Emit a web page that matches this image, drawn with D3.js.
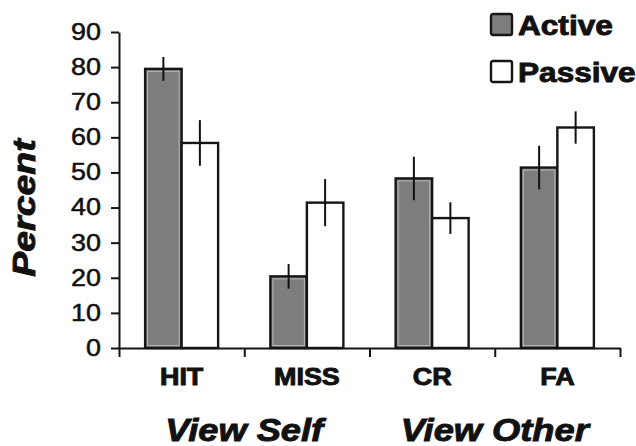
<!DOCTYPE html>
<html>
<head>
<meta charset="utf-8">
<script src="https://cdn.jsdelivr.net/npm/d3@7"></script>
<style>
  body { margin: 0; background: #fff; }
  text { font-family: "Liberation Sans", Arial, sans-serif; fill: #111; }
  .heavy { stroke: #111; stroke-width: 0.9px; }
</style>
</head>
<body>
<div id="chart"></div>
<script>
// chart values
const categories = ['HIT', 'MISS', 'CR', 'FA'];
const series = ['Active', 'Passive'];
const activeMean = [79.5, 20.4, 48.3, 51.4];
const activeErr = [3.4, 3.5, 6.2, 6.2];
const passiveMean = [58.4, 41.4, 37.0, 62.8];
const passiveErr = [6.5, 6.7, 4.5, 4.6];
const yTicks = [0, 10, 20, 30, 40, 50, 60, 70, 80, 90];
const groupLabels = [
  {label: 'View Self', at: 1},
  {label: 'View Other', at: 3}
];

const W = 636, H = 446;
const STRETCH = 1.17; // the original font runs wide

const svg = d3.select('#chart').append('svg')
  .attr('width', W)
  .attr('height', H);

const y = d3.scaleLinear().domain([0, 90]).range([348, 32]);
const x = d3.scaleBand().domain(categories).range([119, 620]);
const xEdge = d3.scaleLinear().domain([0, categories.length]).range([119, 620]);
const pairW = 73;
const x1 = d3.scaleBand().domain(series)
  .range([(x.bandwidth() - pairW) / 2, (x.bandwidth() + pairW) / 2]);

const data = categories.map((c, i) => [
  {cat: c, s: 'Active', v: activeMean[i], e: activeErr[i]},
  {cat: c, s: 'Passive', v: passiveMean[i], e: passiveErr[i]}
]).flat();

// bars
const bars = svg.append('g').attr('class', 'bars');
bars.selectAll('rect.bar')
  .data(data)
  .join('rect')
  .attr('class', 'bar')
  .attr('x', d => x(d.cat) + x1(d.s))
  .attr('y', d => y(d.v))
  .attr('width', x1.bandwidth())
  .attr('height', d => y(0) - y(d.v))
  .style('fill', d => d.s === 'Active' ? '#7d7d7d' : '#fff')
  .style('stroke', '#151515')
  .style('stroke-width', 2.4);

// light inner edge on the grey bars
bars.selectAll('rect.inner')
  .data(data.filter(d => d.s === 'Active'))
  .join('rect')
  .attr('class', 'inner')
  .attr('x', d => x(d.cat) + x1(d.s) + 2.5)
  .attr('y', d => y(d.v) + 2.5)
  .attr('width', x1.bandwidth() - 5)
  .attr('height', d => Math.max(0, y(0) - y(d.v) - 5))
  .style('fill', 'none')
  .style('stroke', '#b5b5b5')
  .style('stroke-width', 1);

// error bars
bars.selectAll('line.err')
  .data(data)
  .join('line')
  .attr('class', 'err')
  .attr('x1', d => x(d.cat) + x1(d.s) + x1.bandwidth() / 2)
  .attr('x2', d => x(d.cat) + x1(d.s) + x1.bandwidth() / 2)
  .attr('y1', d => y(d.v + d.e))
  .attr('y2', d => y(d.v - d.e))
  .style('stroke', '#111')
  .style('stroke-width', 2);

// y axis
const yAxis = svg.append('g')
  .attr('class', 'axis axis-y')
  .attr('transform', `translate(${xEdge(0)},0)`)
  .call(d3.axisLeft(y).tickValues(yTicks).tickSize(8).tickSizeOuter(0));
yAxis.selectAll('text')
  .attr('x', -18 / STRETCH)
  .attr('transform', `scale(${STRETCH},1)`)
  .style('font-size', '23px')
  .style('fill', '#111')
  .style('stroke', '#111')
  .style('stroke-width', 0.5);

// x axis, ticks between categories
const xAxis = svg.append('g')
  .attr('class', 'axis axis-x')
  .attr('transform', `translate(0,${y(0)})`)
  .call(d3.axisBottom(xEdge).tickValues(d3.range(categories.length + 1))
    .tickSize(9).tickSizeOuter(0).tickFormat(''));

svg.selectAll('.axis path, .axis line')
  .style('stroke', '#151515')
  .style('stroke-width', 2);

// category labels
svg.append('g').selectAll('text')
  .data(categories)
  .join('text')
  .attr('class', 'heavy')
  .attr('transform', d => `translate(${x(d) + x.bandwidth() / 2},385) scale(${STRETCH},1)`)
  .attr('text-anchor', 'middle')
  .style('font-size', '23px')
  .style('font-weight', 'bold')
  .text(d => d);

// group labels
svg.append('g').selectAll('text')
  .data(groupLabels)
  .join('text')
  .attr('class', 'heavy')
  .attr('transform', d => `translate(${xEdge(d.at)},441) scale(${STRETCH},1)`)
  .attr('text-anchor', 'middle')
  .style('font-size', '31px')
  .style('font-weight', 'bold')
  .style('font-style', 'italic')
  .text(d => d.label);

// y label
svg.append('text')
  .attr('class', 'heavy')
  .attr('transform', `translate(35,208) rotate(-90) scale(${STRETCH},1)`)
  .attr('text-anchor', 'middle')
  .style('font-size', '32px')
  .style('font-weight', 'bold')
  .style('font-style', 'italic')
  .text('Percent');

// legend
const legend = svg.append('g').attr('class', 'legend')
  .selectAll('g')
  .data(series)
  .join('g')
  .attr('transform', (d, i) => `translate(491,${14 + i * 47})`);
legend.append('rect')
  .attr('width', 21)
  .attr('height', 21)
  .attr('rx', 2)
  .style('fill', d => d === 'Active' ? '#7d7d7d' : '#fff')
  .style('stroke', '#151515')
  .style('stroke-width', 2.4);
legend.append('text')
  .attr('class', 'heavy')
  .attr('transform', `translate(27,21) scale(${STRETCH},1)`)
  .style('font-size', '27px')
  .style('font-weight', 'bold')
  .text(d => d);
</script>
</body>
</html>
